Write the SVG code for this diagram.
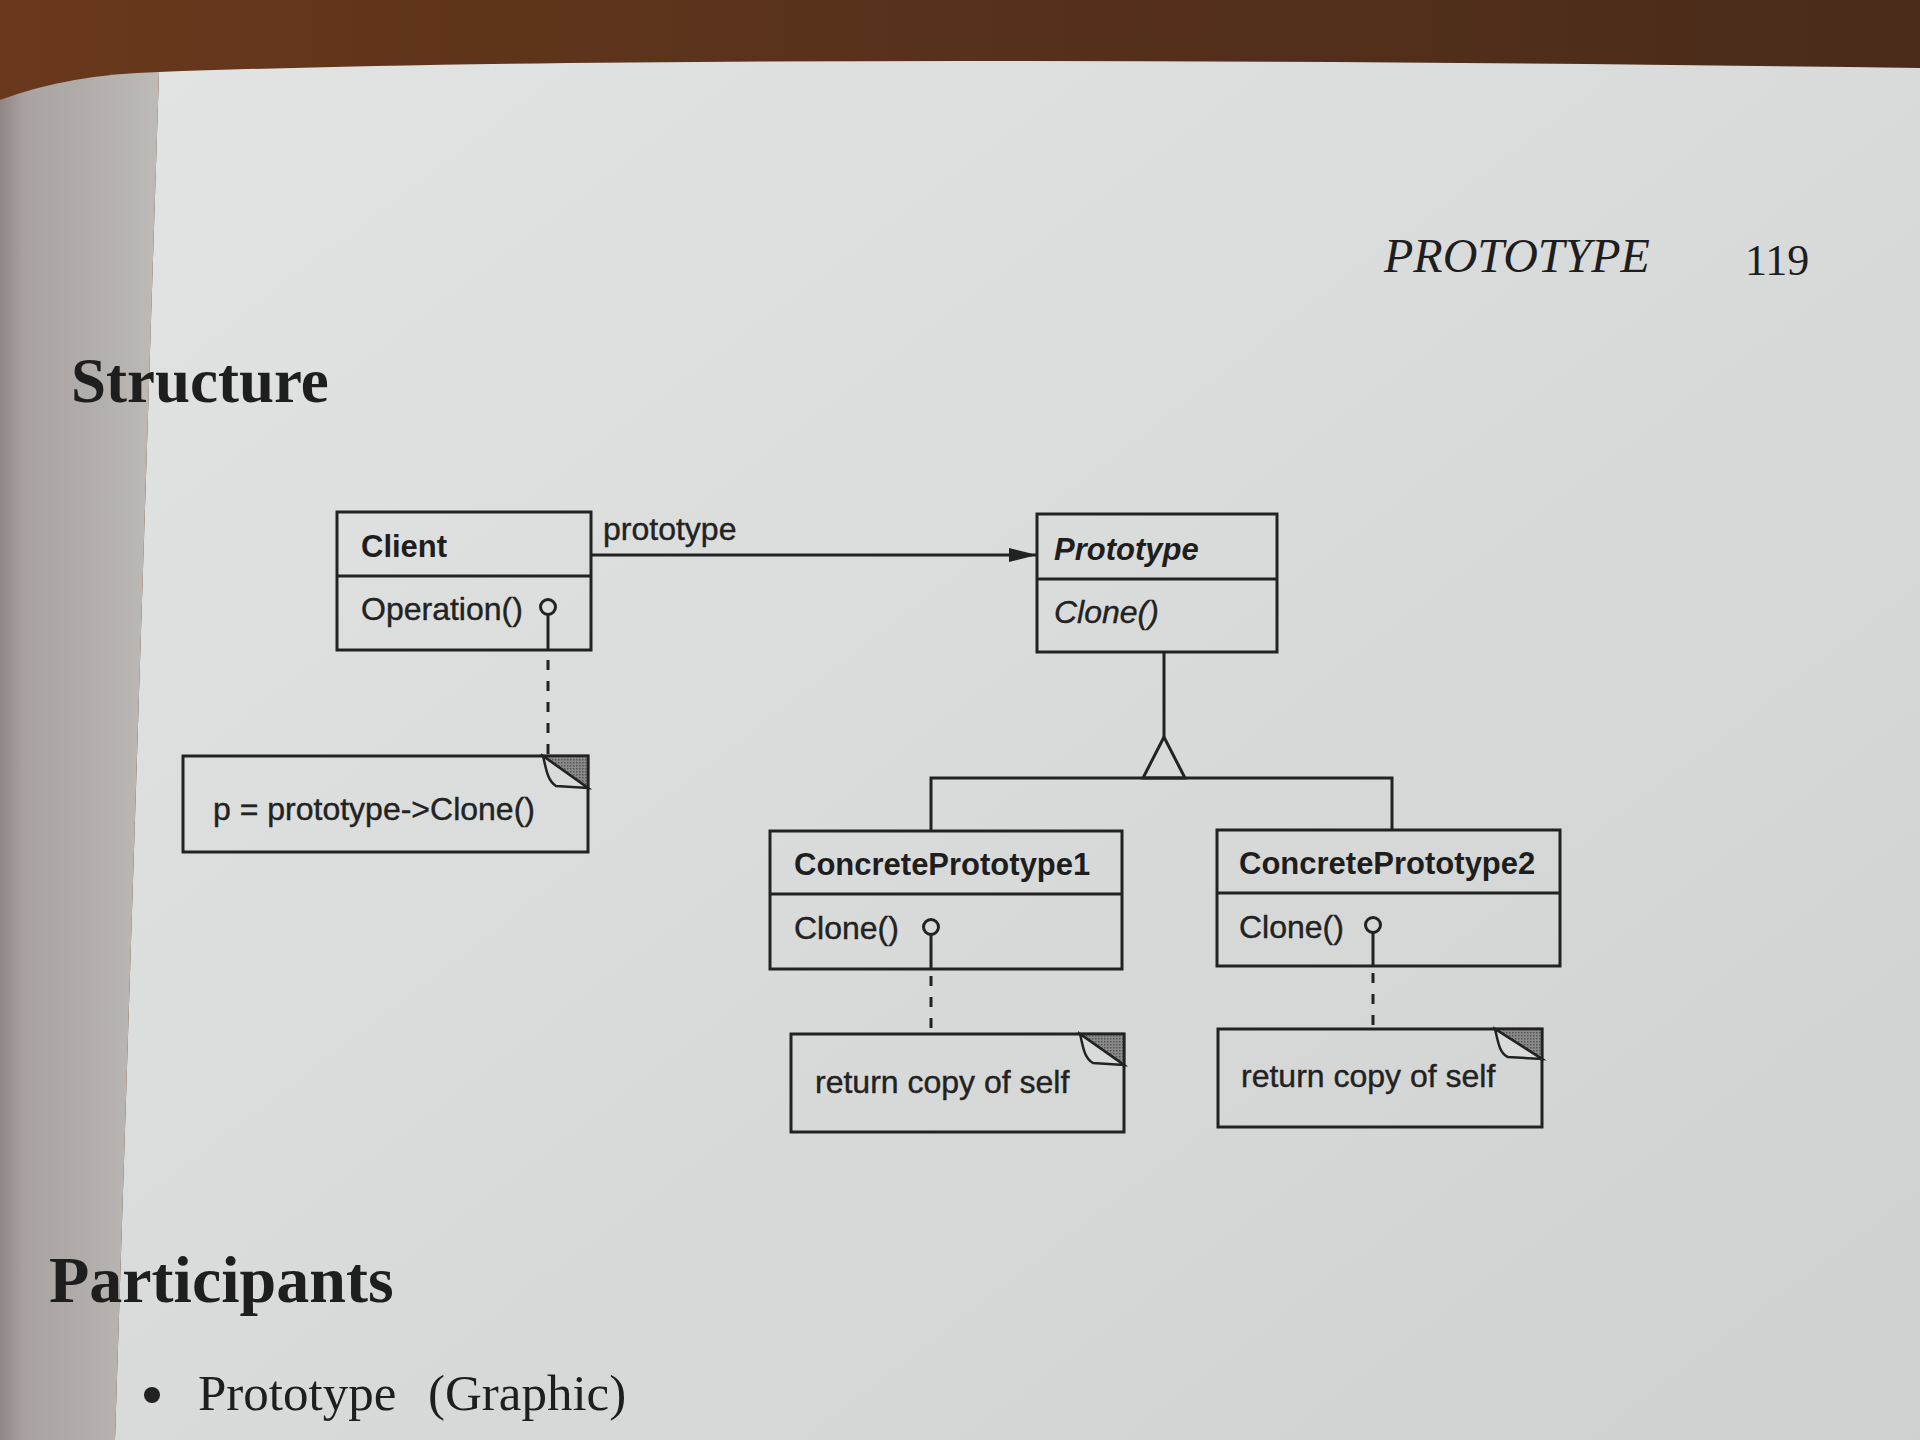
<svg xmlns="http://www.w3.org/2000/svg" width="1920" height="1440" viewBox="0 0 1920 1440">
<defs>
<linearGradient id="pageGrad" x1="0" y1="0" x2="1" y2="1">
<stop offset="0" stop-color="#e2e4e3"/>
<stop offset="0.5" stop-color="#d9dbda"/>
<stop offset="1" stop-color="#cfd1d0"/>
</linearGradient>
<linearGradient id="stripGrad" x1="0" y1="0" x2="1" y2="0">
<stop offset="0" stop-color="#8e8684"/>
<stop offset="0.15" stop-color="#a8a2a0"/>
<stop offset="1" stop-color="#bdbab8"/>
</linearGradient>
<linearGradient id="woodGrad" x1="0" y1="0" x2="1" y2="0">
<stop offset="0" stop-color="#6a381c"/>
<stop offset="0.5" stop-color="#56311b"/>
<stop offset="1" stop-color="#4a2b1a"/>
</linearGradient>
<pattern id="hatch" width="3" height="3" patternUnits="userSpaceOnUse">
<rect width="3" height="3" fill="#8a8a8a"/>
<rect width="1.5" height="1.5" fill="#555"/>
</pattern>
<marker id="arrow" viewBox="0 0 28 14" refX="28" refY="7" markerWidth="28" markerHeight="14" markerUnits="userSpaceOnUse" orient="auto">
<path d="M0,0 L28,7 L0,14 Z" fill="#222"/>
</marker>
<style>
.box{fill:none;stroke:#222;stroke-width:3}
.line{fill:none;stroke:#222;stroke-width:3}
.dash{fill:none;stroke:#222;stroke-width:3;stroke-dasharray:10 11}
.lolli{fill:none;stroke:#222;stroke-width:3}
.title{font-family:"Liberation Sans",Arial,sans-serif;font-weight:bold;font-size:31px;fill:#1e1e1e}
.op{font-family:"Liberation Sans",Arial,sans-serif;font-size:32px;fill:#222;stroke:#222;stroke-width:0.4}
.ital{font-style:italic}
.shade{fill:url(#hatch);stroke:#222;stroke-width:2.5}
.flap{fill:#d9dbda;stroke:#222;stroke-width:2.5}
.head{font-family:"Liberation Serif","Times New Roman",serif;fill:#1e1e1e}
</style>
</defs>

<g id="background">
<rect x="0" y="0" width="1920" height="1440" fill="url(#woodGrad)"/>
<path d="M159,72 Q700,52 1920,68 L1920,1440 L115,1440 Z" fill="url(#pageGrad)"/>
<path d="M0,100 Q70,74 159,72 L115,1440 L0,1440 Z" fill="url(#stripGrad)"/>
</g>

<g id="page-text">
<text class="head" x="1384" y="272" font-size="48" font-style="italic">PROTOTYPE</text>
<text class="head" x="1745" y="275" font-size="44">119</text>
<text class="head" x="71" y="402" font-size="63" font-weight="bold">Structure</text>
<text class="head" x="49" y="1302" font-size="66" font-weight="bold">Participants</text>
<circle cx="152" cy="1395" r="8" fill="#222"/>
<text class="head" x="198" y="1410" font-size="51">Prototype</text>
<text class="head" x="428" y="1410" font-size="51">(Graphic)</text>
</g>

<g id="connectors">
<line class="line" x1="591" y1="555" x2="1037" y2="555" marker-end="url(#arrow)"/>
<text class="op" x="603" y="540">prototype</text>
<line class="line" x1="1164" y1="652" x2="1164" y2="737"/>
<path class="line" d="M1164,737 L1143,778 L1185,778 Z"/>
<polyline class="line" points="931,831 931,778 1392,778 1392,830"/>
<line class="dash" x1="548" y1="660" x2="548" y2="756"/>
<line class="dash" x1="931" y1="976" x2="931" y2="1034"/>
<line class="dash" x1="1373" y1="973" x2="1373" y2="1029"/>
</g>

<g id="client">
<rect class="box" x="337" y="512" width="254" height="138"/>
<line class="line" x1="337" y1="576" x2="591" y2="576"/>
<text class="title" x="361" y="557">Client</text>
<text class="op" x="361" y="620">Operation()</text>
<circle class="lolli" cx="548" cy="607" r="7.5"/>
<line class="lolli" x1="548" y1="614.5" x2="548" y2="650"/>
</g>

<g id="prototype">
<rect class="box" x="1037" y="514" width="240" height="138"/>
<line class="line" x1="1037" y1="579" x2="1277" y2="579"/>
<text class="title ital" x="1054" y="560">Prototype</text>
<text class="op ital" x="1054" y="623">Clone()</text>
</g>

<g id="concrete1">
<rect class="box" x="770" y="831" width="352" height="138"/>
<line class="line" x1="770" y1="894" x2="1122" y2="894"/>
<text class="title" x="794" y="875">ConcretePrototype1</text>
<text class="op" x="794" y="939">Clone()</text>
<circle class="lolli" cx="931" cy="927" r="7.5"/>
<line class="lolli" x1="931" y1="934.5" x2="931" y2="969"/>
</g>

<g id="concrete2">
<rect class="box" x="1217" y="830" width="343" height="136"/>
<line class="line" x1="1217" y1="893" x2="1560" y2="893"/>
<text class="title" x="1239" y="874">ConcretePrototype2</text>
<text class="op" x="1239" y="938">Clone()</text>
<circle class="lolli" cx="1373" cy="925" r="7.5"/>
<line class="lolli" x1="1373" y1="932.5" x2="1373" y2="966"/>
</g>

<g id="note-client">
<rect class="box" x="183" y="756" width="405" height="96"/>
<path class="shade" d="M543,756 L588,756 L588,788 Z"/>
<path class="flap" d="M543,756 C546,768 547,780 556,786 L588,788 Z"/>
<text class="op" x="213" y="820">p = prototype-&gt;Clone()</text>
</g>

<g id="note-cp1">
<rect class="box" x="791" y="1034" width="333" height="98"/>
<path class="shade" d="M1080,1034 L1124,1034 L1124,1065 Z"/>
<path class="flap" d="M1080,1034 C1083,1046 1084,1058 1093,1063 L1124,1065 Z"/>
<text class="op" x="815" y="1093">return copy of self</text>
</g>

<g id="note-cp2">
<rect class="box" x="1218" y="1029" width="324" height="98"/>
<path class="shade" d="M1495,1029 L1542,1029 L1542,1059 Z"/>
<path class="flap" d="M1495,1029 C1498,1041 1499,1053 1508,1057 L1542,1059 Z"/>
<text class="op" x="1241" y="1087">return copy of self</text>
</g>
</svg>
